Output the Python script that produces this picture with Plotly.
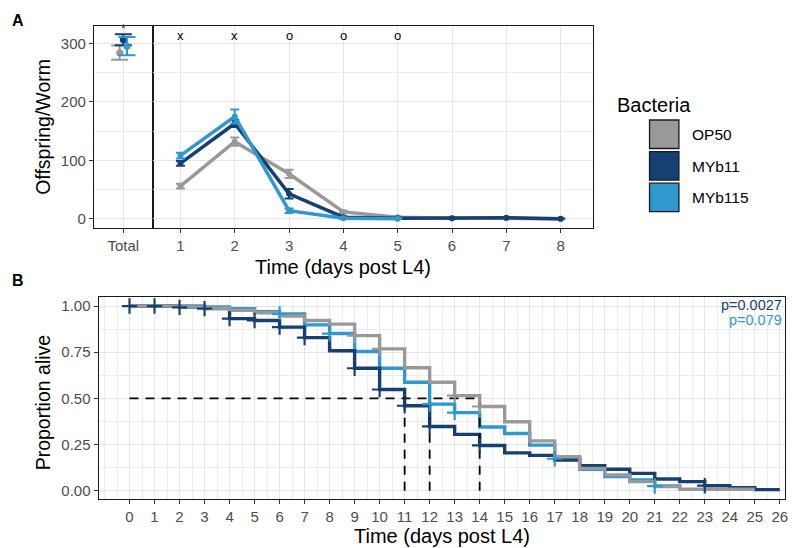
import plotly.graph_objects as go

# ---------------- data ----------------
groups = ["OP50", "MYb11", "MYb115"]
colors = {"OP50": "#999999", "MYb11": "#163f72", "MYb115": "#2f98d0"}

# Panel A : total offspring (mean, SE)
total_mean = {"OP50": 284, "MYb11": 306, "MYb115": 295}
total_se = {"OP50": 12, "MYb11": 9.5, "MYb115": 15.5}

# Panel A : daily offspring
days_a = {"OP50": [1, 2, 3, 4, 5, 6, 7, 8],
          "MYb11": [1, 2, 3, 4, 5, 6, 7, 8],
          "MYb115": [1, 2, 3, 4, 5]}
daily_mean = {"OP50": [56, 132, 77, 12, 3, 1, 1, 0],
              "MYb11": [95, 163, 43, 3, 1, 1, 2, 0.5],
              "MYb115": [108, 175, 14, 1, 0.5]}
daily_se = {"OP50": [4, 7, 7, 2, 1, 0.5, 0.5, 0.3],
            "MYb11": [4, 6, 8, 1, 0.5, 0.5, 0.5, 0.3],
            "MYb115": [5, 12, 4, 1, 0.5]}
sig_days = [1, 2, 3, 4, 5]
sig_labels = ["x", "x", "o", "o", "o"]
total_sig = "*"

# Panel B : survival step values (value from day t onwards)
surv_t = {"OP50": list(range(0, 26)),
          "MYb11": list(range(0, 27)),
          "MYb115": list(range(0, 23))}
surv_s = {
    "OP50": [1.0, 1.0, 0.995, 0.988, 0.977, 0.964, 0.946, 0.922, 0.902, 0.84,
             0.768, 0.666, 0.587, 0.515, 0.456, 0.373, 0.27, 0.184, 0.121, 0.085,
             0.049, 0.022, 0.008, 0.008, 0.008, 0.008],
    "MYb11": [1.0, 1.0, 0.993, 0.986, 0.932, 0.922, 0.886, 0.829, 0.758, 0.663,
              0.548, 0.46, 0.348, 0.305, 0.245, 0.205, 0.191, 0.166, 0.135, 0.116,
              0.094, 0.063, 0.049, 0.027, 0.016, 0.006, 0.006],
    "MYb115": [1.0, 1.0, 1.0, 0.995, 0.985, 0.97, 0.957, 0.898, 0.851, 0.754,
               0.663, 0.587, 0.469, 0.423, 0.345, 0.31, 0.247, 0.173, 0.116, 0.076,
               0.058, 0.025, 0.01],
}
censor_t = {"OP50": [9, 10, 13, 14],
            "MYb11": [0, 1, 2, 3, 4, 5, 6, 7, 9, 10, 11, 12, 14, 23],
            "MYb115": [6, 8, 12, 13, 17, 21]}
p_labels = [("p=0.0027", "MYb11"), ("p=0.079", "MYb115")]
surv_xticks = list(range(0, 27))
surv_yticks = [0, 0.25, 0.5, 0.75, 1.0]
surv_yticktext = ["0.00", "0.25", "0.50", "0.75", "1.00"]

# ---------------- helpers ----------------
W, H = 792, 548
def px(x):
    return x / W
def py(y):
    return 1 - y / H

FONT = "Liberation Sans, Arial, sans-serif"
TICKC = "#4d4d4d"
GRID = "#e6e6e6"
MINOR = dict(showgrid=True, gridcolor="#ededed", gridwidth=0.9)

fig = go.Figure()

# ---- Panel A: total ----
dodge = {"OP50": -0.075, "MYb11": 0.0, "MYb115": 0.075}
for g in groups:
    fig.add_trace(go.Scatter(
        x=[0 + dodge[g]], y=[total_mean[g]], mode="markers",
        marker=dict(color=colors[g], size=7),
        error_y=dict(type="data", array=[total_se[g]], color=colors[g], thickness=2, width=8.5),
        xaxis="x", yaxis="y", showlegend=False, hoverinfo="skip"))

# ---- Panel A: daily ----
for g in groups:
    fig.add_trace(go.Scatter(
        x=days_a[g], y=daily_mean[g], mode="lines+markers",
        line=dict(color=colors[g], width=3.5),
        marker=dict(color=colors[g], size=6),
        error_y=dict(type="data", array=daily_se[g], color=colors[g], thickness=2, width=4.5),
        xaxis="x2", yaxis="y2", showlegend=False, hoverinfo="skip"))

# ---- Panel B: survival ----
for g in ["MYb115", "MYb11", "OP50"]:
    fig.add_trace(go.Scatter(
        x=surv_t[g], y=surv_s[g], mode="lines", line=dict(color=colors[g], width=3.4, shape="hv"),
        xaxis="x3", yaxis="y3", showlegend=False, hoverinfo="skip"))

# median lines
medians = []
for g in groups:
    m = next(t for t, s in zip(surv_t[g], surv_s[g]) if s <= 0.5)
    medians.append(m)
DASH = dict(color="black", width=1.8, dash="9px,7px")
fig.add_trace(go.Scatter(x=[0, max(medians)], y=[0.5, 0.5], mode="lines", line=DASH,
                         xaxis="x3", yaxis="y3", showlegend=False, hoverinfo="skip"))
for m in medians:
    fig.add_trace(go.Scatter(x=[m, m], y=[0, 0.5], mode="lines", line=DASH,
                             xaxis="x3", yaxis="y3", showlegend=False, hoverinfo="skip"))

# censor marks
for g in ["MYb115", "OP50", "MYb11"]:
    lookup = dict(zip(surv_t[g], surv_s[g]))
    fig.add_trace(go.Scatter(
        x=censor_t[g], y=[lookup[t] for t in censor_t[g]], mode="markers",
        marker=dict(symbol="cross-thin", size=11, line=dict(color=colors[g], width=2.2)),
        xaxis="x3", yaxis="y3", showlegend=False, hoverinfo="skip"))

# ---------------- axes ----------------
A_top, A_bot = 25.7, 228.3
tot_l, tot_r, main_r = 94.3, 153.3, 595.5
B_l, B_r, B_top, B_bot = 99, 788.3, 297, 499

common_axis = dict(showline=True, linecolor="#1a1a1a", linewidth=1.2, mirror=True,
                   ticks="outside", ticklen=4, tickcolor="#333333", tickwidth=1,
                   tickfont=dict(family=FONT, size=15, color=TICKC),
                   gridcolor=GRID, gridwidth=1.3, zeroline=False)

fig.update_layout(
    width=W, height=H, margin=dict(l=0, r=0, t=0, b=0),
    paper_bgcolor="white", plot_bgcolor="white",
    font=dict(family=FONT),
    xaxis=dict(domain=[px(tot_l), px(tot_r)], range=[-0.6, 0.6], tickvals=[0], ticktext=["Total"],
               anchor="y", **common_axis),
    yaxis=dict(domain=[py(A_bot), py(A_top)], range=[-16, 330], tickvals=[0, 100, 200, 300],
               anchor="x", minor=dict(dtick=50, tick0=0, **MINOR), **common_axis),
    xaxis2=dict(domain=[px(tot_r), px(main_r)], range=[0.49, 8.6], tickvals=list(range(1, 9)),
                anchor="y2", **common_axis),
    yaxis2=dict(domain=[py(A_bot), py(A_top)], range=[-16, 330], tickvals=[0, 100, 200, 300],
                anchor="x2", showticklabels=False,
                minor=dict(dtick=50, tick0=0, **MINOR),
                **{k: v for k, v in common_axis.items() if k not in ("ticks",)}, ticks=""),
    xaxis3=dict(domain=[px(B_l), px(B_r)], range=[-1.235, 26.22], tickvals=surv_xticks,
                anchor="y3", minor=dict(dtick=0.5, tick0=0, **MINOR), **common_axis),
    yaxis3=dict(domain=[py(B_bot), py(B_top)], range=[-0.045, 1.049], tickvals=surv_yticks,
                ticktext=surv_yticktext, anchor="x3",
                minor=dict(dtick=0.125, tick0=0, **MINOR), **common_axis),
)

ann = []
def text(x, y, s, size, color="black", bold=False, angle=0, xanchor="center"):
    ann.append(dict(x=px(x), y=py(y), xref="paper", yref="paper", text=("<b>%s</b>" % s) if bold else s,
                    showarrow=False, textangle=angle, xanchor=xanchor, yanchor="middle",
                    font=dict(family=FONT, size=size, color=color)))

text(18.3, 20.7, "A", 16, bold=True)
text(18.3, 280.7, "B", 16, bold=True)
text(43, 127, "Offspring/Worm", 19.5, angle=-90)
text(344, 266.5, "Time (days post L4)", 20)
text(43.5, 402, "Proportion alive", 19.5, angle=-90)
text(444, 536, "Time (days post L4)", 20)

# significance letters
for d, s in zip(sig_days, sig_labels):
    ann.append(dict(x=d, y=314, xref="x2", yref="y2", text=s, showarrow=False,
                    font=dict(family=FONT, size=13, color="black")))
ann.append(dict(x=0, y=325, xref="x", yref="y", text=total_sig, showarrow=False,
                font=dict(family=FONT, size=12, color=colors["MYb11"])))

# p-values
for i, (s, g) in enumerate(p_labels):
    text(786.5, 304.5 + i * 15.5, s, 14.5, color=colors[g], xanchor="right")

# legend (manual)
text(617, 105, "Bacteria", 20, xanchor="left")
shapes = []
for i, g in enumerate(groups):
    top = 120 + i * 31.6
    shapes.append(dict(type="rect", xref="paper", yref="paper",
                       x0=px(652), x1=px(681.5), y0=py(top + 28.5), y1=py(top),
                       fillcolor=colors[g], line=dict(color="#1a1a1a", width=1.3)))
    text(692.5, top + 14.5, g, 15.5, xanchor="left")

fig.update_layout(annotations=ann, shapes=shapes)
fig.write_html("out.html", config={"displayModeBar": False},
               post_script="document.body.style.margin='0';document.body.style.overflow='hidden';")
